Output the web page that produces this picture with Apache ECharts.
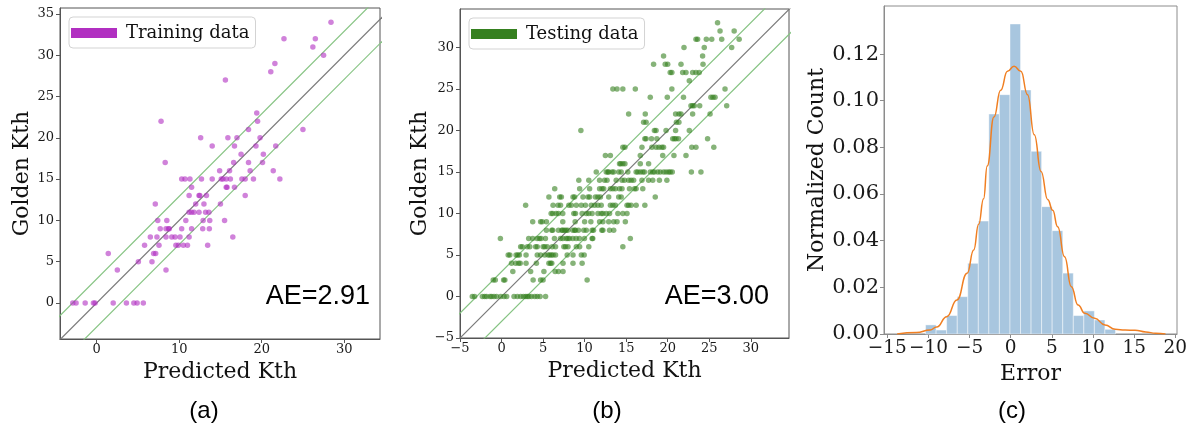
<!DOCTYPE html>
<html>
<head>
<meta charset="utf-8">
<script src="https://cdn.jsdelivr.net/npm/echarts@6/dist/echarts.min.js"></script>
<style>
  html, body { margin: 0; padding: 0; background: #fff; }
  #chart { width: 1190px; height: 431px; }
</style>
</head>
<body>
<div id="chart"></div>
<script>
// ---- Training set: [golden Kth, predicted Kth values on that row] ----
const trainingRows = [
  [34, [28.4]],
  [32, [22.7, 26.5]],
  [31, [26.2]],
  [30, [27.5]],
  [29, [21.6]],
  [28, [21.1]],
  [27, [15.6]],
  [23, [19.4]],
  [22, [7.8, 19.5]],
  [21, [18.4, 25.0]],
  [20, [12.6, 15.9, 17.0, 19.8]],
  [19, [14.0, 16.7, 19.3, 21.7]],
  [18, [17.5, 20.2]],
  [17, [8.3, 16.6, 18.4, 20.1]],
  [16, [14.9, 16.1, 18.6, 21.4]],
  [15, [10.3, 10.7, 11.3, 12.7, 14.0, 15.1, 15.3, 15.7, 16.2, 17.6, 18.0, 19.0, 22.2]],
  [14, [11.5, 15.7, 15.8, 16.7]],
  [13, [11.2, 12.4, 12.5, 13.3, 18.0]],
  [12, [7.1, 12.0, 13.0, 15.0]],
  [11, [11.2, 11.5, 11.8, 12.4, 13.2, 13.6]],
  [10, [7.4, 8.5, 10.8, 12.9, 13.7, 15.5]],
  [9, [7.7, 8.4, 8.7, 8.8, 10.3, 11.5, 12.85, 13.65]],
  [8, [6.5, 7.3, 8.4, 9.1, 9.5, 10.1, 11.2, 16.5]],
  [7, [5.8, 7.55, 9.6, 9.9, 10.5, 11.0, 13.45]],
  [6, [1.4, 6.9, 7.15]],
  [5, [5.05, 6.7]],
  [4, [2.5, 8.4]],
  [0, [-2.9, -2.5, -1.4, -0.4, -0.2, 2.0, 3.6, 4.5, 4.9, 5.65]]
];

// ---- Testing set: [golden Kth, predicted Kth values on that row] ----
const testingRows = [
  [33, [26.0]],
  [32, [26.3, 28.0]],
  [31, [23.4, 23.6, 24.65, 25.3, 26.5, 28.6]],
  [30, [21.96, 24.4, 27.7]],
  [29, [19.5, 24.2]],
  [28, [18.3, 19.7, 20.0, 21.6, 24.25]],
  [27, [20.3, 20.5, 21.8, 22.2, 23.0, 23.4, 23.8]],
  [26, [22.6]],
  [25, [13.4, 13.9, 14.6, 16.1, 20.5, 26.9]],
  [24, [17.9, 19.95, 21.9, 25.2, 25.45, 25.7]],
  [23, [22.8, 23.0, 23.2, 23.85, 27.1]],
  [22, [15.3, 17.3, 20.95, 21.35, 21.6, 23.0, 25.1]],
  [21, [17.1, 17.4, 21.05, 21.35]],
  [20, [9.55, 18.4, 18.6, 19.8, 20.95, 22.6]],
  [19, [17.25, 17.4, 18.05, 18.7, 20.6, 20.8, 21.0, 21.3, 24.8]],
  [18, [14.6, 14.85, 16.9, 18.1, 18.6, 18.95, 19.3, 19.5, 22.9, 23.4, 25.55]],
  [17, [12.5, 13.1, 16.7, 19.4, 20.75, 22.2]],
  [16, [14.2, 14.35, 14.6, 14.85, 16.7, 17.7]],
  [15, [11.4, 12.6, 12.8, 12.9, 13.3, 13.5, 14.1, 14.4, 15.2, 16.2, 16.4, 16.7, 17.0, 17.2,
        17.9, 18.2, 18.4, 18.8, 19.1, 19.5, 19.8, 20.1, 20.3, 20.55, 22.85, 24.0]],
  [14, [9.3, 10.5, 11.8, 12.4, 12.7, 13.8, 14.5, 14.8, 15.3, 15.6, 15.9, 16.9, 17.7, 18.2, 19.0, 19.9]],
  [13, [6.4, 9.4, 10.6, 11.8, 12.1, 12.3, 13.1, 13.4, 13.7, 14.2, 14.5, 15.4, 16.0, 16.2, 17.0]],
  [12, [5.7, 7.0, 7.2, 8.6, 8.8, 9.8, 10.4, 10.6, 11.3, 11.6, 11.9, 12.9, 14.1, 14.4, 18.5]],
  [11, [2.9, 6.2, 6.8, 7.1, 8.1, 8.4, 9.0, 9.6, 10.1, 10.8, 11.2, 11.6, 12.0, 13.1, 13.4, 13.7,
        15.1, 15.3, 15.6, 16.2, 17.25]],
  [10, [5.97, 6.16, 6.57, 6.85, 7.37, 8.7, 8.9, 9.7, 10.2, 10.5, 10.9, 11.6, 12.0, 12.2, 12.6, 13.0,
        14.0, 14.6, 15.1]],
  [9, [3.75, 4.7, 4.9, 5.4, 7.37, 8.86, 10.0, 10.75, 11.8, 12.2, 12.9, 13.5, 13.9, 14.9]],
  [8, [5.4, 6.04, 6.16, 6.85, 7.25, 7.37, 7.57, 7.77, 7.97, 8.57, 8.8, 8.9, 9.26, 9.9, 10.2, 10.9,
       11.07, 12.07, 12.2, 13.0, 13.5]],
  [7, [-0.14, 3.27, 3.75, 4.28, 4.56, 4.76, 5.28, 6.37, 7.09, 7.37, 7.77, 7.97, 8.17, 8.57, 8.98,
       9.38, 9.98, 10.9, 10.98, 15.5]],
  [6, [2.3, 2.5, 3.1, 3.4, 4.1, 4.3, 5.0, 5.2, 5.5, 6.1, 6.5, 7.5, 7.7, 8.0, 9.0, 9.4, 10.5, 14.6]],
  [5, [0.8, 1.0, 1.75, 1.95, 2.15, 2.95, 4.3, 4.7, 5.2, 5.6, 5.8, 6.0, 6.2, 6.5, 7.9, 8.6, 9.6, 9.95]],
  [4, [1.2, 1.7, 2.05, 2.25, 2.95, 4.2, 5.7, 5.9, 6.05, 7.4, 8.6, 9.7]],
  [3, [1.36, 3.5, 5.1, 6.45, 6.85, 7.4]],
  [2, [-1.0, -0.75, 0.25, 0.4, 3.8, 4.7, 5.0, 10.3]],
  [0, [-3.52, -3.24, -2.31, -2.03, -1.8, -1.39, -1.19, -0.9, -0.59, -0.1, 0.3, 0.62, 1.5, 1.9,
       2.3, 2.63, 2.9, 3.1, 3.3, 3.6, 4.0, 4.3, 4.64, 5.3]]
];

// Mean absolute error bands drawn around y = x
const trainingAE = 2.91;
const testingAE = 3.00;

// ---- Error histogram (density) and KDE curve ----
const errorBinEdges = [-10.35, -9.07, -7.79, -6.5, -5.22, -3.94, -2.66, -1.38, -0.09, 1.19,
                       2.47, 3.75, 5.03, 6.32, 7.6, 8.88, 10.16, 11.44, 12.73];
const errorDensity = [0.0039, 0.0017, 0.0079, 0.016, 0.0303, 0.0484, 0.0943, 0.1026, 0.1329,
                      0.1046, 0.0783, 0.0546, 0.0443, 0.0261, 0.0079, 0.0099, 0.006, 0.002];
const kdeX = [-13.8, -11.45, -9.8, -9.0, -7.77, -6.54, -5.3, -4.5, -3.9, -3.3, -2.86, -2.04,
              -1.23, -0.4, 0.4, 1.23, 2.04, 2.86, 3.68, 4.5, 5.1, 5.7, 6.54, 7.36, 8.18, 9.0,
              10.2, 11.45, 12.7, 13.9, 15.1, 16.4, 17.6, 18.8];
const kdeY = [0, 0.0006, 0.0017, 0.003, 0.0074, 0.0146, 0.026, 0.036, 0.047, 0.058, 0.072, 0.093,
              0.1045, 0.1126, 0.1148, 0.1126, 0.1026, 0.0854, 0.0697, 0.0576, 0.053, 0.046, 0.0331,
              0.0203, 0.0124, 0.0089, 0.0067, 0.0039, 0.002, 0.0017, 0.0016, 0.0009, 0.0003, 0];

// ---- Tick values ----
const ticksA_x = [0, 10, 20, 30];
const ticksA_y = [0, 5, 10, 15, 20, 25, 30, 35];
const ticksB = [-5, 0, 5, 10, 15, 20, 25, 30];
const ticksC_x = [-15, -10, -5, 0, 5, 10, 15, 20];
const ticksC_y = [0, 0.02, 0.04, 0.06, 0.08, 0.10, 0.12];

// ---- Axis ranges ----
const rangeA = { x: [-4.45, 34.34], y: [-4.37, 35.73] };
const rangeB = { x: [-5, 34.6], y: [-5, 34.65] };
const rangeC = { x: [-15.4, 20.2], y: [0, 0.1406] };

const SERIF = 'DejaVu Serif';
const SANS = 'Liberation Sans';
const minus = v => String(v).replace('-', '\u2212');

function rowsToPoints(rows) {
  const pts = [];
  rows.forEach(([gold, preds]) => preds.forEach(p => pts.push([p, gold])));
  return pts;
}

function axis(gridIndex, range, ticks, o) {
  return {
    gridIndex, type: 'value', min: range[0], max: range[1],
    axisLine: { show: true, onZero: false, lineStyle: { color: o.frame, width: 1 } },
    axisTick: { show: true, inside: false, length: 4, customValues: ticks,
                lineStyle: { color: o.frame, width: 1 } },
    axisLabel: { customValues: ticks, formatter: o.fmt || minus, fontFamily: SERIF,
                 fontSize: o.size, color: '#1a1a1a', margin: o.margin },
    splitLine: { show: false },
    name: o.name, nameLocation: 'middle', nameGap: o.gap,
    nameRotate: o.rotate || 0,
    nameTextStyle: { fontFamily: SERIF, fontSize: 22, color: '#111' }
  };
}

// y = x reference line and the +/- AE band lines
function refLines(axisIdx, range, ae) {
  const [a, b] = range;
  const mk = (off, color) => ({
    type: 'line', xAxisIndex: axisIdx, yAxisIndex: axisIdx, silent: true,
    symbol: 'none', clip: true, z: 1,
    lineStyle: { color, width: 1.2 },
    data: [[a - 5, a - 5 + off], [b + 5, b + 5 + off]]
  });
  return [mk(0, '#7a7a7a'), mk(ae, '#85c382'), mk(-ae, '#85c382')];
}

function legendFor(name, left, top, color) {
  return {
    data: [{ name, icon: 'rect', itemStyle: { color, opacity: 1 } }],
    left, top, orient: 'vertical',
    itemWidth: 46, itemHeight: 10,
    padding: [7, 6, 6, 2],
    backgroundColor: 'rgba(255,255,255,0.85)',
    borderColor: '#d3d3d3', borderWidth: 1, borderRadius: 4,
    selectedMode: false,
    textStyle: { fontFamily: SERIF, fontSize: 18, color: '#111', padding: [0, 0, 0, 4] }
  };
}

const chart = echarts.init(document.getElementById('chart'), null, { renderer: 'canvas' });

const gridBase = { show: true, borderWidth: 1, containLabel: false, outerBoundsMode: 'none' };

const option = {
  backgroundColor: '#ffffff',
  animation: false,
  grid: [
    Object.assign({ left: 60, top: 8, width: 320, height: 331, borderColor: '#555' }, gridBase),
    Object.assign({ left: 460, top: 9, width: 329, height: 329, borderColor: '#555' }, gridBase),
    Object.assign({ left: 884, top: 6, width: 293, height: 328, borderColor: '#8c8c8c' }, gridBase)
  ],
  xAxis: [
    axis(0, rangeA.x, ticksA_x, { frame: '#555', size: 13, margin: 4, name: 'Predicted Kth', gap: 22 }),
    axis(1, rangeB.x, ticksB, { frame: '#555', size: 13, margin: 4, name: 'Predicted Kth', gap: 22 }),
    axis(2, rangeC.x, ticksC_x, { frame: '#8c8c8c', size: 18.5, margin: 5, name: 'Error', gap: 29 })
  ],
  yAxis: [
    axis(0, rangeA.y, ticksA_y, { frame: '#555', size: 13, margin: 6, name: 'Golden Kth', gap: 27, rotate: 90 }),
    axis(1, rangeB.y, ticksB, { frame: '#555', size: 13, margin: 6, name: 'Golden Kth', gap: 27, rotate: 90 }),
    axis(2, rangeC.y, ticksC_y, { frame: '#8c8c8c', size: 21, margin: 5, name: 'Normalized Count',
                                   gap: 55, rotate: 90, fmt: v => v.toFixed(2) })
  ],
  legend: [
    legendFor('Training data', 69, 17, '#b12fc1'),
    legendFor('Testing data', 469, 18, '#35801f')
  ],
  series: [
    ...refLines(0, rangeA.x, trainingAE),
    {
      name: 'Training data', type: 'scatter', xAxisIndex: 0, yAxisIndex: 0, z: 3,
      symbolSize: 5.5, itemStyle: { color: '#b12fc1', opacity: 0.6 },
      data: rowsToPoints(trainingRows)
    },
    ...refLines(1, rangeB.x, testingAE),
    {
      name: 'Testing data', type: 'scatter', xAxisIndex: 1, yAxisIndex: 1, z: 3,
      symbolSize: 5.5, itemStyle: { color: '#35801f', opacity: 0.6 },
      data: rowsToPoints(testingRows)
    },
    {
      name: 'Error histogram', type: 'custom', xAxisIndex: 2, yAxisIndex: 2, z: 2,
      data: errorDensity.map((h, i) => [errorBinEdges[i], errorBinEdges[i + 1], h]),
      encode: { x: [0, 1], y: 2 },
      renderItem(params, api) {
        const tl = api.coord([api.value(0), api.value(2)]);
        const br = api.coord([api.value(1), 0]);
        return {
          type: 'rect',
          shape: { x: tl[0], y: tl[1], width: br[0] - tl[0], height: br[1] - tl[1] },
          style: { fill: '#a8c6df', stroke: 'rgba(255,255,255,0.45)', lineWidth: 1 }
        };
      }
    },
    {
      name: 'KDE', type: 'line', xAxisIndex: 2, yAxisIndex: 2, z: 4,
      symbol: 'none', smooth: 0.5, smoothMonotone: 'x',
      lineStyle: { color: '#f07f22', width: 1.5 },
      data: kdeX.map((x, i) => [x, kdeY[i]])
    }
  ],
  graphic: [
    { type: 'text', right: 1190 - 370, top: 283,
      style: { text: 'AE=' + trainingAE.toFixed(2), font: '27px "' + SANS + '"', fill: '#000' } },
    { type: 'text', right: 1190 - 769, top: 283,
      style: { text: 'AE=' + testingAE.toFixed(2), font: '27px "' + SANS + '"', fill: '#000' } },
    { type: 'text', x: 204, y: 411,
      style: { text: '(a)', font: '24px "' + SANS + '"', fill: '#000', align: 'center', verticalAlign: 'middle' } },
    { type: 'text', x: 607, y: 411,
      style: { text: '(b)', font: '24px "' + SANS + '"', fill: '#000', align: 'center', verticalAlign: 'middle' } },
    { type: 'text', x: 1012, y: 411,
      style: { text: '(c)', font: '24px "' + SANS + '"', fill: '#000', align: 'center', verticalAlign: 'middle' } }
  ]
};

chart.setOption(option);
</script>
</body>
</html>
